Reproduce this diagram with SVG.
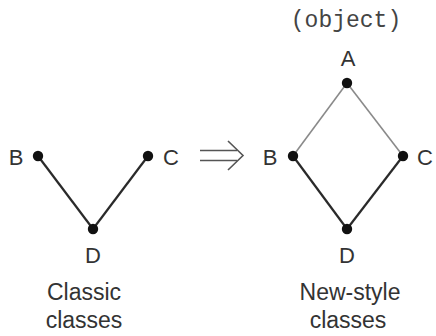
<svg xmlns="http://www.w3.org/2000/svg" width="436" height="336" viewBox="0 0 436 336">
<style>
.t{font-family:"Liberation Sans",Arial,sans-serif;font-size:22px;fill:#333;text-anchor:middle}
.c{font-size:23px}
.m{font-family:"Liberation Mono","Courier New",monospace;font-size:23px;fill:#444;text-anchor:middle}
.dk{stroke:#2a2a2a;stroke-width:2.2;fill:none}
.lt{stroke:#8a8a8a;stroke-width:1.6;fill:none}
.dot{fill:#111}
</style>
<rect width="436" height="336" fill="#fff"/>
<g id="connectors">
<line class="dk" x1="38" y1="156" x2="93" y2="229"/>
<line class="dk" x1="148" y1="156" x2="93" y2="229"/>
<line class="lt" x1="347" y1="83" x2="293" y2="156"/>
<line class="lt" x1="347" y1="83" x2="403" y2="156"/>
<line class="dk" x1="293" y1="156" x2="347" y2="229"/>
<line class="dk" x1="403" y1="156" x2="347" y2="229"/>
<g id="transform-arrow" stroke="#555" stroke-width="1.6" fill="none">
<line x1="200" y1="150.5" x2="237" y2="150.5"/>
<line x1="200" y1="160.5" x2="237" y2="160.5"/>
<polyline points="228,141 243,155.5 228,170"/>
</g>
</g>
<g id="classic-B"><circle class="dot" cx="38" cy="156" r="5.2"/><text class="t" x="16" y="165">B</text></g>
<g id="classic-C"><circle class="dot" cx="148" cy="156" r="5.2"/><text class="t" x="171" y="165">C</text></g>
<g id="classic-D"><circle class="dot" cx="93" cy="229" r="5.2"/><text class="t" x="93" y="263">D</text></g>
<g id="classic-label"><text class="t c" x="84" y="300">Classic</text><text class="t c" x="84" y="328">classes</text></g>
<g id="new-A"><circle class="dot" cx="347" cy="83" r="5.2"/><text class="t" x="348" y="66">A</text><text class="m" x="346" y="27">(object)</text></g>
<g id="new-B"><circle class="dot" cx="293" cy="156" r="5.2"/><text class="t" x="270" y="165">B</text></g>
<g id="new-C"><circle class="dot" cx="403" cy="156" r="5.2"/><text class="t" x="425" y="165">C</text></g>
<g id="new-D"><circle class="dot" cx="347" cy="229" r="5.2"/><text class="t" x="347" y="263">D</text></g>
<g id="new-label"><text class="t c" x="350" y="300">New-style</text><text class="t c" x="348" y="328">classes</text></g>
</svg>
